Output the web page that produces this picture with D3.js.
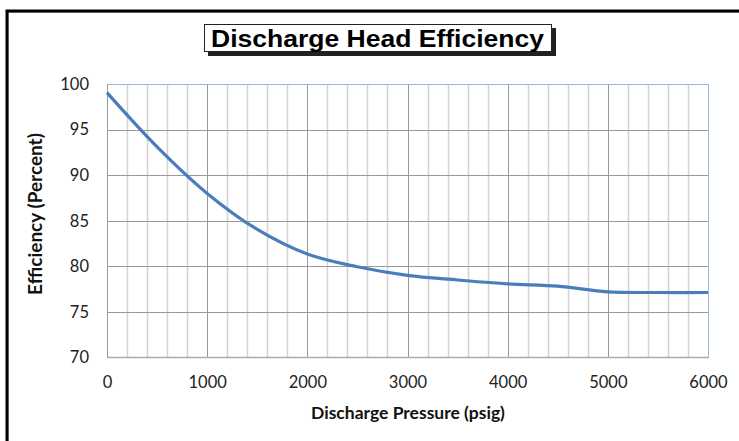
<!DOCTYPE html>
<html>
<head>
<meta charset="utf-8">
<script src="https://cdn.jsdelivr.net/npm/d3@7"></script>
<style>
  body { margin: 0; background: #fff; }
  .tick text { font-family: Lato, "Open Sans", sans-serif; font-size: 16.5px; fill: #222; }
  .axis-title { font-family: Lato, "Open Sans", sans-serif; font-weight: bold; font-size: 17.5px; fill: #111; }
</style>
</head>
<body>
<div id="chart"></div>
<script>
// pressure (psig) vs efficiency (%)
const pressure = [0, 500, 1000, 1500, 2000, 2500, 3000, 3500, 4000, 4500, 5000, 5500, 6000];
const efficiency = [99.05, 93.1, 88.0, 84.05, 81.35, 79.95, 79.0, 78.5, 78.07, 77.82, 77.2, 77.13, 77.13];
const xTicks = [0, 1000, 2000, 3000, 4000, 5000, 6000];
const yTicks = [70, 75, 80, 85, 90, 95, 100];

const config = {
  width: 739,
  height: 441,
  margin: { top: 84, right: 31, bottom: 84, left: 107 }
};

const data = pressure.map((p, i) => ({ x: p, y: efficiency[i] }));

const svg = d3.select('#chart').append('svg')
  .attr('width', config.width)
  .attr('height', config.height);

// outer frame
svg.append('rect')
  .attr('x', 8.5).attr('y', 12.5)
  .attr('width', 760).attr('height', 460)
  .attr('fill', 'none')
  .attr('stroke', '#bbb')
  .attr('stroke-width', 1);
svg.append('rect')
  .attr('x', 7).attr('y', 11)
  .attr('width', 760).attr('height', 460)
  .attr('fill', 'none')
  .attr('stroke', '#000')
  .attr('stroke-width', 3);

const w = 601;
const h = 273.5;

const chart = svg.append('g')
  .attr('transform', `translate(${config.margin.left},${config.margin.top})`);

const xScale = d3.scaleLinear().domain([0, 6000]).range([0, w]);
const yScale = d3.scaleLinear().domain([70, 100]).range([h, 0]);

// minor vertical grid
chart.selectAll('.minor-grid')
  .data(d3.range(200, 6000, 200).filter(d => d % 1000 !== 0))
  .enter().append('line')
  .attr('class', 'minor-grid')
  .attr('x1', d => Math.round(xScale(d)) + 0.5)
  .attr('x2', d => Math.round(xScale(d)) + 0.5)
  .attr('y1', 0).attr('y2', h)
  .attr('stroke', '#d4d4d4')
  .attr('stroke-width', 1.5);

// major vertical grid
chart.selectAll('.major-grid-x')
  .data(xTicks.slice(1, -1))
  .enter().append('line')
  .attr('class', 'major-grid-x')
  .attr('x1', d => Math.round(xScale(d)) + 0.5)
  .attr('x2', d => Math.round(xScale(d)) + 0.5)
  .attr('y1', 0).attr('y2', h)
  .attr('stroke', '#999')
  .attr('stroke-width', 1);

// horizontal grid
chart.selectAll('.major-grid-y')
  .data(yTicks.slice(1, -1))
  .enter().append('line')
  .attr('class', 'major-grid-y')
  .attr('x1', 0).attr('x2', w)
  .attr('y1', d => Math.round(yScale(d)) + 0.5)
  .attr('y2', d => Math.round(yScale(d)) + 0.5)
  .attr('stroke', '#999')
  .attr('stroke-width', 1);

// plot border: top + right bluish, bottom + left gray
chart.append('line')
  .attr('x1', 0).attr('x2', w).attr('y1', 0.5).attr('y2', 0.5)
  .attr('stroke', '#9bb7dc');
chart.append('line')
  .attr('x1', w + 0.5).attr('x2', w + 0.5).attr('y1', 0).attr('y2', h)
  .attr('stroke', '#9bb7dc');
chart.append('line')
  .attr('x1', 0.5).attr('x2', 0.5).attr('y1', 0).attr('y2', h)
  .attr('stroke', '#999');
chart.append('line')
  .attr('x1', 0).attr('x2', w + 1).attr('y1', h).attr('y2', h)
  .attr('stroke', '#aaa').attr('stroke-width', 1.5);

// axes (labels only)
const xAxis = chart.append('g')
  .attr('transform', `translate(0,${h})`)
  .call(d3.axisBottom(xScale).tickValues(xTicks).tickFormat(d3.format('d')).tickSize(0).tickPadding(19));
xAxis.select('.domain').remove();

const yAxis = chart.append('g')
  .call(d3.axisLeft(yScale).tickValues(yTicks).tickFormat(d3.format('d')).tickSize(0).tickPadding(18));
yAxis.select('.domain').remove();

// curve
const line = d3.line()
  .x(d => xScale(d.x))
  .y(d => yScale(d.y))
  .curve(d3.curveCatmullRom.alpha(0.5));

chart.append('path')
  .datum(data)
  .attr('d', line)
  .attr('fill', 'none')
  .attr('stroke', '#4a7ebb')
  .attr('stroke-width', 3.2);

// axis titles
svg.append('text')
  .attr('class', 'axis-title')
  .attr('x', 408).attr('y', 419)
  .attr('text-anchor', 'middle')
  .text('Discharge Pressure (psig)');

svg.append('text')
  .attr('class', 'axis-title')
  .attr('transform', 'translate(42,214) rotate(-90)')
  .attr('text-anchor', 'middle')
  .attr('font-size', '19px')
  .style('font-size', '19px')
  .text('Efficiency (Percent)');

// title box with shadow
const titleG = svg.append('g');
titleG.append('rect')
  .attr('x', 208).attr('y', 28)
  .attr('width', 348).attr('height', 28)
  .attr('fill', '#222');
titleG.append('rect')
  .attr('x', 204.5).attr('y', 24.5)
  .attr('width', 347).attr('height', 27)
  .attr('fill', '#fff')
  .attr('stroke', '#222')
  .attr('stroke-width', 1);
titleG.append('text')
  .attr('x', 211).attr('y', 46.5)
  .attr('textLength', 333)
  .attr('lengthAdjust', 'spacingAndGlyphs')
  .attr('font-family', '"Liberation Sans", Arial, sans-serif')
  .attr('font-weight', 'bold')
  .attr('font-size', '23px')
  .attr('fill', '#000')
  .text('Discharge Head Efficiency');
</script>
</body>
</html>
